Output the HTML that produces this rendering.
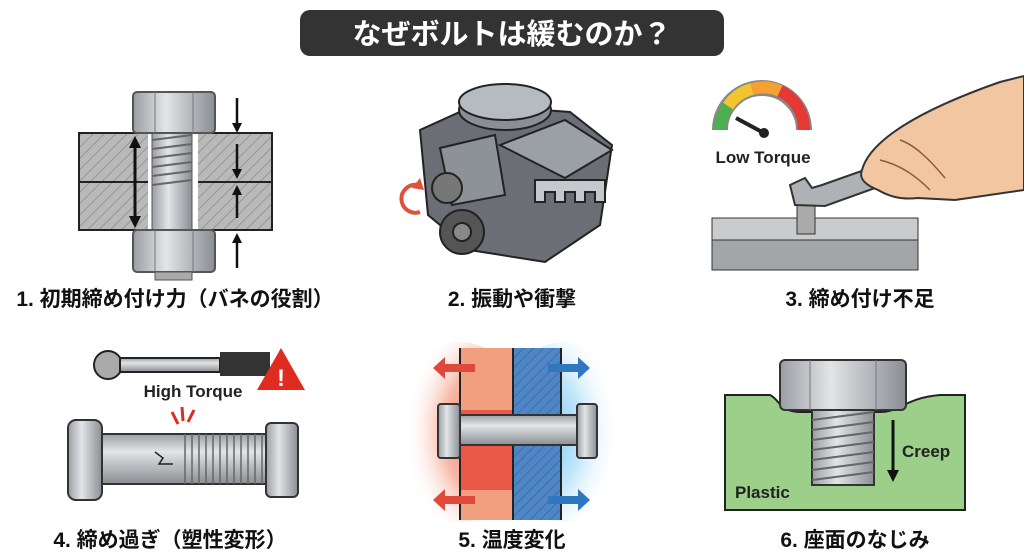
<!DOCTYPE html>
<html><head><meta charset="utf-8"><style>
html,body{margin:0;padding:0;background:#fff;width:1024px;height:559px;overflow:hidden}
svg{display:block}
text{font-family:"Liberation Sans","Noto Sans CJK JP",sans-serif;font-weight:bold}
</style></head><body>
<svg width="1024" height="559" viewBox="0 0 1024 559" xmlns="http://www.w3.org/2000/svg">
<defs>
<pattern id="hatch" width="8" height="8" patternUnits="userSpaceOnUse" patternTransform="rotate(45)">
<rect width="8" height="8" fill="#b9b9b9"/><line x1="0" y1="0" x2="0" y2="8" stroke="#8a8a8a" stroke-width="1.5"/></pattern>
<pattern id="hatchB" width="7" height="7" patternUnits="userSpaceOnUse" patternTransform="rotate(45)">
<rect width="7" height="7" fill="#4f86c6"/><line x1="0" y1="0" x2="0" y2="7" stroke="#3868a8" stroke-width="1.5"/></pattern>
<linearGradient id="metal" x1="0" y1="0" x2="0" y2="1"><stop offset="0" stop-color="#9a9ea3"/><stop offset=".35" stop-color="#e2e4e6"/><stop offset="1" stop-color="#8a8e93"/></linearGradient>
<linearGradient id="metalV" x1="0" y1="0" x2="1" y2="0"><stop offset="0" stop-color="#9a9ea3"/><stop offset=".4" stop-color="#e2e4e6"/><stop offset="1" stop-color="#8a8e93"/></linearGradient>
<radialGradient id="hot" cx=".8" cy=".5" r=".7"><stop offset="0" stop-color="#e8372a"/><stop offset=".6" stop-color="#f39a80" stop-opacity=".7"/><stop offset="1" stop-color="#fff" stop-opacity="0"/></radialGradient>
<radialGradient id="cold" cx=".2" cy=".5" r=".7"><stop offset="0" stop-color="#3aa8ef"/><stop offset=".6" stop-color="#a8dcf8" stop-opacity=".7"/><stop offset="1" stop-color="#fff" stop-opacity="0"/></radialGradient>
<marker id="ah" viewBox="0 0 10 10" refX="5" refY="5" markerWidth="4" markerHeight="4" orient="auto-start-reverse"><path d="M0,0L10,5L0,10z" fill="#111"/></marker>
</defs>

<rect x="300" y="10" width="424" height="46" rx="10" fill="#333"/>
<text x="512" y="44" font-size="29" fill="#fff" text-anchor="middle">なぜボルトは緩むのか？</text>

<!-- Panel 1 -->
<rect x="79" y="133" width="193" height="97" fill="url(#hatch)" stroke="#222" stroke-width="2"/>
<line x1="79" y1="182" x2="272" y2="182" stroke="#222" stroke-width="2"/>
<rect x="148" y="133" width="50" height="97" fill="#fff"/>
<rect x="152" y="125" width="40" height="110" fill="url(#metalV)" stroke="#555"/>
<g stroke="#666" stroke-width="2">
<line x1="152" y1="140" x2="192" y2="135"/><line x1="152" y1="149" x2="192" y2="144"/><line x1="152" y1="158" x2="192" y2="153"/><line x1="152" y1="167" x2="192" y2="162"/><line x1="152" y1="176" x2="192" y2="171"/><line x1="152" y1="185" x2="192" y2="180"/></g>
<rect x="133" y="92" width="82" height="41" rx="4" fill="url(#metalV)" stroke="#555" stroke-width="2"/>
<line x1="155" y1="92" x2="155" y2="133" stroke="#777"/><line x1="193" y1="92" x2="193" y2="133" stroke="#777"/>
<rect x="133" y="230" width="82" height="42" rx="4" fill="url(#metalV)" stroke="#555" stroke-width="2"/>
<line x1="155" y1="230" x2="155" y2="272" stroke="#777"/><line x1="193" y1="230" x2="193" y2="272" stroke="#777"/>
<rect x="155" y="272" width="37" height="8" fill="#aaa" stroke="#555"/>
<line x1="135" y1="142" x2="135" y2="222" stroke="#111" stroke-width="3" marker-start="url(#ah)" marker-end="url(#ah)"/>
<g stroke="#111" stroke-width="2.5" marker-end="url(#ah)">
<line x1="237" y1="98" x2="237" y2="128"/><line x1="237" y1="144" x2="237" y2="174"/>
<line x1="237" y1="218" x2="237" y2="190"/><line x1="237" y1="268" x2="237" y2="238"/></g>
<text x="175" y="306" font-size="21" fill="#111" text-anchor="middle">1. 初期締め付け力（バネの役割）</text>

<!-- Panel 2 engine -->
<g stroke="#222" stroke-width="2">
<path d="M420,130 L475,105 L570,112 L612,145 L600,225 L545,262 L470,250 L428,215 Z" fill="#6b6f75"/>
<path d="M500,145 L565,120 L612,150 L565,178 Z" fill="#9ba0a6"/>
<path d="M440,148 L495,135 L505,195 L452,205 Z" fill="#8d9298"/>
<ellipse cx="505" cy="110" rx="46" ry="20" fill="#8a8f95"/>
<ellipse cx="505" cy="102" rx="46" ry="18" fill="#b6bbc0"/>
<path d="M535,180 h70 v22 h-10 v-10 h-10 v10 h-10 v-10 h-10 v10 h-10 v-10 h-10 v10 h-10z" fill="#c5c8cc"/>
<circle cx="462" cy="232" r="22" fill="#555"/><circle cx="462" cy="232" r="9" fill="#888"/>
<circle cx="447" cy="188" r="15" fill="#777"/>
</g>
<path d="M418,185 A14,14 0 1 0 420,212" fill="none" stroke="#e0513a" stroke-width="4"/>
<path d="M412,188 l8,-10 l4,12z" fill="#e0513a"/>
<text x="512" y="306" font-size="21" fill="#111" text-anchor="middle">2. 振動や衝撃</text>

<!-- Panel 3 -->
<path d="M720,130 A42,42 0 0 1 804,130" fill="none" stroke="#888" stroke-width="16"/>
<path d="M720,130 A42,42 0 0 1 728,106" fill="none" stroke="#4caf50" stroke-width="12"/>
<path d="M728,106 A42,42 0 0 1 752,89" fill="none" stroke="#f2c530" stroke-width="12"/>
<path d="M752,89 A42,42 0 0 1 780,91" fill="none" stroke="#f5a030" stroke-width="12"/>
<path d="M780,91 A42,42 0 0 1 804,130" fill="none" stroke="#e53935" stroke-width="12"/>
<line x1="736" y1="118" x2="762" y2="132" stroke="#222" stroke-width="4"/><circle cx="764" cy="133" r="5" fill="#222"/>
<text x="763" y="163" font-size="17" fill="#222" text-anchor="middle">Low Torque</text>
<rect x="712" y="218" width="206" height="52" fill="#a3a6a9" stroke="#333"/>
<rect x="712" y="218" width="206" height="22" fill="#c9cbcd" stroke="#333"/>
<rect x="797" y="202" width="18" height="32" fill="#aaa" stroke="#333"/>
<path d="M795,205 L790,185 L805,178 L812,188 L822,185 L870,168 L940,158 L955,165 L948,176 L875,188 L825,206 Z" fill="#aeb2b6" stroke="#333" stroke-width="2"/>
<path d="M862,170 C870,140 920,110 1000,82 L1024,76 L1024,190 L955,200 L918,198 C900,200 888,196 878,190 C868,186 858,180 862,170Z" fill="#f2c6a0" stroke="#333" stroke-width="2"/>
<path d="M880,160 C900,165 915,175 930,190 M900,140 C915,145 930,160 945,178" fill="none" stroke="#8a5a3a" stroke-width="1.5"/>
<text x="860" y="306" font-size="21" fill="#111" text-anchor="middle">3. 締め付け不足</text>

<!-- Panel 4 -->
<circle cx="108" cy="365" r="14" fill="#aaa" stroke="#222" stroke-width="2"/>
<rect x="120" y="358" width="100" height="14" fill="url(#metal)" stroke="#222" stroke-width="2"/>
<rect x="220" y="352" width="50" height="24" fill="#333"/>
<path d="M281,348 L305,390 L257,390 Z" fill="#e02b20"/>
<text x="281" y="386" font-size="24" fill="#fff" text-anchor="middle">!</text>
<text x="193" y="397" font-size="17" fill="#222" text-anchor="middle">High Torque</text>
<g stroke="#e02b20" stroke-width="3"><line x1="172" y1="412" x2="178" y2="424"/><line x1="182" y1="407" x2="183" y2="421"/><line x1="194" y1="410" x2="188" y2="422"/></g>
<rect x="100" y="434" width="170" height="50" fill="url(#metal)" stroke="#333" stroke-width="2"/>
<g stroke="#666" stroke-width="1.5">
<line x1="185" y1="434" x2="185" y2="484"/><line x1="192" y1="434" x2="192" y2="484"/><line x1="199" y1="434" x2="199" y2="484"/><line x1="206" y1="434" x2="206" y2="484"/><line x1="213" y1="434" x2="213" y2="484"/><line x1="220" y1="434" x2="220" y2="484"/><line x1="227" y1="434" x2="227" y2="484"/><line x1="234" y1="434" x2="234" y2="484"/><line x1="241" y1="434" x2="241" y2="484"/><line x1="248" y1="434" x2="248" y2="484"/><line x1="255" y1="434" x2="255" y2="484"/><line x1="262" y1="434" x2="262" y2="484"/></g>
<path d="M155,452 l8,6 l-4,6 l14,0" fill="none" stroke="#222" stroke-width="1.5"/>
<rect x="68" y="420" width="34" height="80" rx="8" fill="url(#metalV)" stroke="#333" stroke-width="2"/>
<rect x="266" y="423" width="32" height="74" rx="5" fill="url(#metalV)" stroke="#333" stroke-width="2"/>
<text x="170" y="547" font-size="21" fill="#111" text-anchor="middle">4. 締め過ぎ（塑性変形）</text>

<!-- Panel 5 -->
<ellipse cx="460" cy="432" rx="70" ry="90" fill="url(#hot)"/>
<ellipse cx="565" cy="432" rx="70" ry="90" fill="url(#cold)"/>
<rect x="460" y="348" width="53" height="172" fill="#f0a07e"/>
<rect x="460" y="410" width="53" height="80" fill="#e8473a" opacity=".8"/>
<rect x="513" y="348" width="48" height="172" fill="url(#hatchB)"/>
<line x1="460" y1="348" x2="460" y2="520" stroke="#222" stroke-width="2"/><line x1="513" y1="348" x2="513" y2="520" stroke="#222" stroke-width="2"/><line x1="561" y1="348" x2="561" y2="520" stroke="#222" stroke-width="2"/>
<rect x="452" y="415" width="140" height="30" fill="url(#metal)" stroke="#333" stroke-width="2"/>
<rect x="438" y="404" width="22" height="54" rx="3" fill="url(#metalV)" stroke="#333" stroke-width="2"/>
<rect x="577" y="404" width="20" height="54" rx="3" fill="url(#metalV)" stroke="#333" stroke-width="2"/>
<g fill="#e0483a"><path d="M475,364 h-30 v-7 l-12,11 l12,11 v-7 h30z"/><path d="M475,496 h-30 v-7 l-12,11 l12,11 v-7 h30z"/></g>
<g fill="#2f78c0"><path d="M548,364 h30 v-7 l12,11 l-12,11 v-7 h-30z"/><path d="M548,496 h30 v-7 l12,11 l-12,11 v-7 h-30z"/></g>
<text x="512" y="547" font-size="21" fill="#111" text-anchor="middle">5. 温度変化</text>

<!-- Panel 6 -->
<path d="M725,395 L770,395 C780,400 780,412 800,412 L880,412 C900,412 905,398 940,395 L965,395 L965,510 L725,510 Z" fill="#9bcf8a" stroke="#222" stroke-width="2"/>
<rect x="812" y="405" width="62" height="80" fill="url(#metalV)" stroke="#333" stroke-width="2"/>
<g stroke="#666" stroke-width="2"><line x1="812" y1="420" x2="874" y2="412"/><line x1="812" y1="430" x2="874" y2="422"/><line x1="812" y1="440" x2="874" y2="432"/><line x1="812" y1="450" x2="874" y2="442"/><line x1="812" y1="460" x2="874" y2="452"/><line x1="812" y1="470" x2="874" y2="462"/><line x1="812" y1="480" x2="874" y2="472"/></g>
<rect x="780" y="360" width="126" height="50" rx="5" fill="url(#metalV)" stroke="#333" stroke-width="2"/>
<line x1="810" y1="360" x2="810" y2="410" stroke="#777"/><line x1="876" y1="360" x2="876" y2="410" stroke="#777"/>
<line x1="893" y1="420" x2="893" y2="476" stroke="#111" stroke-width="3" marker-end="url(#ah)"/>
<text x="902" y="457" font-size="17" fill="#222">Creep</text>
<text x="735" y="498" font-size="17" fill="#222">Plastic</text>
<text x="855" y="547" font-size="21" fill="#111" text-anchor="middle">6. 座面のなじみ</text>
</svg>
</body></html>
